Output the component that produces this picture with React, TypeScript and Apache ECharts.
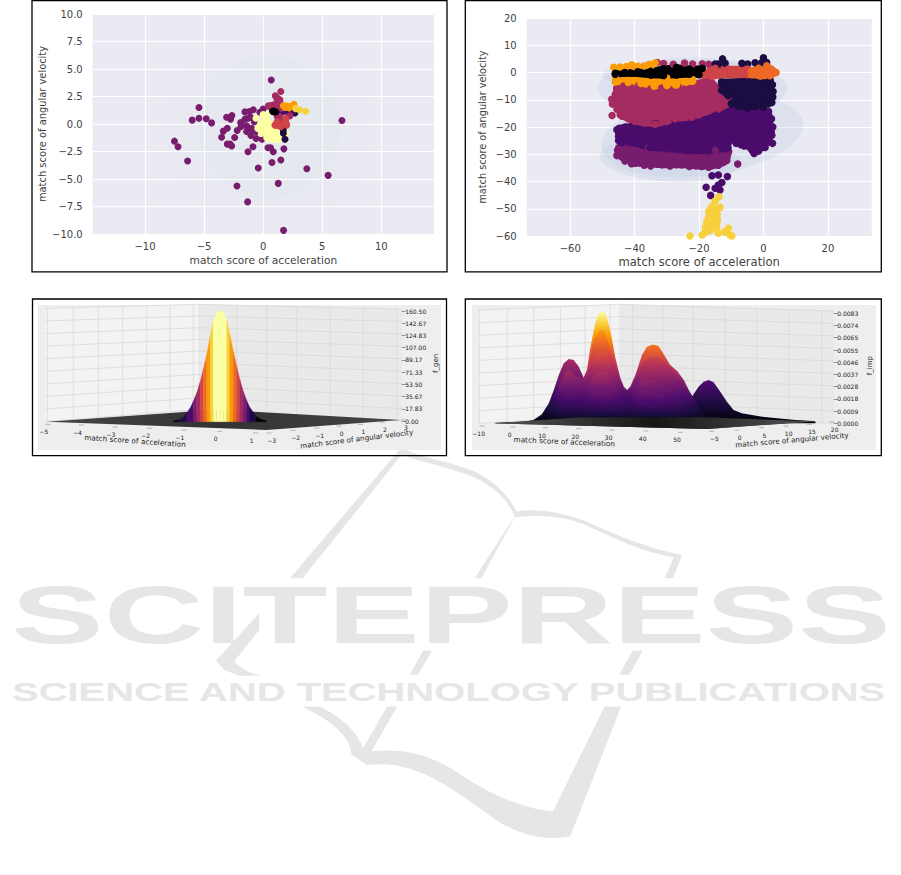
import React, { useEffect, useRef } from "react";
import * as echarts from "echarts";

// ---------- palette (inferno, 10 steps) ----------
const C = ["#000004", "#1b0c41", "#4a0c6b", "#781c6d", "#a52c60", "#cf4446", "#ed6925", "#fb9b06", "#f7d13d", "#fcffa4"];
const INK = "#3f3f3f";
const FONT = '"DejaVu Sans"';

// ---------- panel A: generated samples (x, y) ----------
const aMagenta = [[0.69,4.0],[6.67,0.32],[-5.43,1.5],[-5.43,0.53],[-6.0,0.35],[-4.81,0.47],[-4.36,0.1],[-7.5,-1.56],[-7.2,-2.07],[-6.39,-3.37],[-3.09,0.62],[-2.64,0.77],[-2.75,0.44],[-3.03,-0.38],[-3.37,-0.65],[-3.51,-1.2],[-2.41,-1.22],[-2.19,-0.59],[-3.03,-1.83],[-2.8,-1.83],[-2.66,-2.0],[-1.28,-2.53],[-0.86,-2.07],[-0.41,-4.0],[-2.21,-5.64],[-1.31,-7.08],[1.28,-5.4],[0.75,-3.5],[1.5,-3.28],[3.7,-4.07],[5.5,-4.67],[1.73,-9.67],[1.76,-2.26],[0.86,-2.53],[0.63,-2.16],[0.41,-2.16],[-0.1,-1.38],[-0.6,-1.32],[-1.03,-1.04],[-1.54,1.1],[-1.17,1.13],[-0.83,1.29],[-1.54,0.44],[-1.26,0.53],[-1.9,0.14],[-1.87,-0.23],[-1.4,-0.17],[-0.97,-0.38],[-1.4,-0.68],[-1.1,-0.83],[-1.06,0.62],[-0.27,1.07],[0,1.35],[-0.75,0.2],[-0.6,-0.7]];
const aPaleHull = [[-0.45,-0.4],[-0.2,0.05],[0.3,0.4],[0.7,-0.1],[1.7,-0.5],[1.9,-0.8],[1.55,-1.3],[1.3,-1.4],[0.8,-1.4],[0.3,-1.25],[-0.15,-0.85]];
const aPaleExtra = [[0,0.85],[0.35,0.85],[-0.6,0.53],[1.85,-1.05]];
const aNavy = [[2.69,1.0],[1.71,-0.53],[1.71,-0.83],[1.85,-1.38]];
const aPurple = [[1.7,1.13],[2.13,1.04],[2.4,1.1],[1.42,0.98],[0.86,1.2]];
const aCrimsonHull = [[1.03,2.56],[1.42,2.2],[1.56,1.44],[1.42,0.68],[1.28,0.38],[1.0,1.13],[0.44,1.65],[1.28,1.89]];
const aCrimsonExtra = [[1.5,2.95],[2.27,0.74]];
const aRedHull = [[1.2,0.2],[1.9,0.5],[2.0,-0.1],[1.5,-0.25],[1.0,-0.1]];
const aAmber = [[1.71,1.65],[1.99,1.65],[2.27,1.59],[2.61,1.8],[2.41,1.59],[1.85,1.5],[2.2,1.45]];
const aYellow = [[3.06,1.29],[3.6,1.16],[2.75,1.4]];
const aBlack = [[0.8,1.15],[0.95,1.15],[1.05,1.1]];
const aHalos = [[0.3,-0.4,8.5,9,0],[0.5,-0.3,6,6.5,0]];

// ---------- panel B: imposter samples (x, y), cluster outlines ----------
const bBlack = [[-46,-0.3],[-43,0],[-39,0.3],[-35,0.4],[-31,1.4],[-27,1.8],[-23,1.3],[-19,1.5],[-20,-0.8],[-23,-0.6],[-27,-0.9],[-31,-1.1],[-35,-0.9],[-41,-0.3],[-46,-0.6]];
const bAmberTop = [[-46.5,1.9],[-44.5,2],[-42.5,2.2],[-40.9,2.8],[-38.9,2.3],[-37,2.4],[-35.5,3],[-33.6,3.6],[-35,2],[-40,1.5]];
const bAmberLow = [[-46,-3.5],[-42,-3.7],[-38,-4],[-34,-5],[-30,-4.8],[-27,-4.6],[-24,-3.6],[-22,-3.2],[-22,-2.6],[-30,-2],[-46,-1.5]];
const bCrimson = [[-45.6,-5.8],[-43.5,-5],[-38.8,-4.9],[-31.6,-5.7],[-26.4,-5.3],[-21.2,-4],[-16.5,-3],[-13.5,-6.6],[-10.9,-9.6],[-10.4,-11.3],[-14,-13.3],[-18.1,-14.6],[-22.3,-16.4],[-27.4,-17],[-33.6,-19],[-39.9,-18],[-44,-16],[-44.9,-13],[-45.6,-9]];
const bCrimsonEdge = [[-46,-8],[-45.5,-11],[-45.5,-13.5],[-44.5,-15.5],[-42,-17],[-37,-18.5],[-30,-18],[-25,-16.5],[-20,-15.5],[-16,-13.5],[-41,-5.6],[-35,-6],[-29,-6.3],[-24,-5.5]];
const bCrimsonExtra = [[-47.1,-9.8],[-46.9,-11.6],[-47,-15.8],[-33,3.7],[-31,3.3],[-28,3],[-24.5,3.5],[-22,3.1],[-19,3.2],[-17,3],[-14,2.7]];
const bRed = [[-18.7,-1],[-16.6,0.6],[-15,1.5],[-10.9,1.3],[-5,1.3],[-5,-0.8],[-14,-1],[-16,-1.5]];
const bOrange = [[-3.7,0.5],[-1.5,1.5],[1,2.5],[2.5,1.2],[3.9,0],[2,-1.2],[-1,-1.3],[-3.7,-0.8]];
const bNavy = [[-13,-3.5],[2.1,-2.8],[2.4,-9.5],[1.6,-11.5],[-2.6,-12.5],[-7.8,-12.5],[-9.4,-11],[-10.9,-8.5],[-13,-6.5]];
const bNavyEdge = [[2.8,-4.5],[3,-7],[2.9,-9],[2.6,-11],[0,-12.8],[-5,-13],[-10,-11.5]];
const bNavyExtra = [[-12.7,5],[0,5.4],[-15,3.1],[-14,3.1],[-11.9,3.4],[-6.7,3.4],[-4.9,3.1],[-2.6,3.6],[-0.5,3.7],[1,3.7]];
const bPurple = [[-44.8,-20.5],[-43,-20],[-40.9,-19.7],[-33.6,-18.7],[-27.4,-18],[-22.3,-16.9],[-15,-15],[-9.8,-13.7],[-4.7,-14.7],[1.6,-14.3],[2.4,-21.7],[1.6,-25.5],[-0.5,-27.5],[-2.9,-29.7],[-4.5,-27.2],[-7,-26.5],[-7.5,-24.5],[-10,-24.5],[-12,-28],[-17,-28.7],[-23.3,-28.7],[-29.5,-28],[-35.2,-27.5],[-40.9,-25.7],[-44,-25.7],[-44.9,-22.3]];
const bPurpleEdge = [[2.5,-17],[2.9,-20],[2.6,-23],[2.8,-26],[0.5,-27.5],[-1.5,-28.8],[-6,-27],[-8.5,-26],[-11,-27.5],[-3.5,-28.5],[-45.5,-21],[-45,-23.5],[-45,-25],[-42,-25.5],[-38,-26.5]];
const bPurpleExtra = [[-16,-37.9],[-14,-37.6],[-11.2,-38.2],[-17.8,-42.1],[-12.9,-40.4],[-14,-41.3],[-15,-42.5],[-13.5,-43.1],[-16.4,-45.1]];
const bMagenta = [[-44.9,-27.5],[-43,-27],[-35.7,-27.5],[-29.5,-28.2],[-23.3,-28.8],[-17,-29],[-15,-28.5],[-10.8,-29],[-11.4,-32.3],[-14,-34],[-19.2,-34.5],[-25.4,-33.9],[-31.6,-33.9],[-39.9,-33.3],[-44,-31],[-45,-30]];
const bMagentaEdge = [[-43,-32.5],[-41,-33.5],[-37,-34],[-35,-34.3],[-33,-33.7],[-29,-34.3],[-27,-33.8],[-23,-34.5],[-21,-34.2],[-17,-34.8],[-16,-34.2],[-12.5,-33],[-45.3,-28.5],[-45.5,-30.5]];
const bMagentaExtra = [[-8,-33.6]];
const bYellow = [[-16,-51],[-14.3,-50],[-14.3,-54],[-14.5,-57],[-18,-57],[-17,-53]];
const bYellowExtra = [[-13.8,-45.6],[-15,-47.2],[-16,-49.2],[-13.5,-49.5],[-17.6,-54.7],[-16.6,-52.9],[-10.9,-57.2],[-11.9,-58.4],[-15,-56],[-22.8,-60],[-9.8,-60],[-19,-59.6],[-18,-58.5],[-16.5,-58],[-14,-59],[-12,-58.5],[-10.5,-59.5],[-16.3,-50],[-17,-51]];
const bEllipses = [[-22,-5.8,29.3,11.4,0],[-19,-23,31.5,15,7],[-29,-32,22,8,-3],[-23,-1,27,5.5,0]];

// ---------- panel C: f_gen surface profile ----------
const cX = [-1.22,-1.08,-0.93,-0.84,-0.74,-0.65,-0.55,-0.45,-0.36,-0.26,-0.16,-0.07,0.03,0.13,0.22,0.32,0.41,0.51,0.61,0.7,0.8,0.9,0.99,1.09,1.18,1.28,1.47];
const cZ = [0,1.5,5.4,11.2,18.5,28.2,40.4,56.4,74.4,96.3,123,145,158.6,160.5,159.5,147.4,125.5,101.2,79.3,59.8,42.8,29.2,19.5,12.6,6.3,2.9,0];
const cStripe = [C[0],C[1],C[1],C[2],C[2],C[3],C[4],C[5],C[6],C[7],C[8],C[9],C[9],C[9],C[9],C[8],C[7],C[6],C[5],C[4],C[3],C[2],C[1],C[1],C[0],C[0]];
const cFloor = [[-4.88,-1],[0.01,16.5],[5.34,1.5],[1.47,-13.1]];
const cZTicks = [0,17.83,35.67,53.5,71.33,89.17,107,124.83,142.67,160.5];
const cAccTicks = ["−5","−4","−3","−2","−1","0","1"];
const cAngTicks = ["−3","−2","−1","0","1","2","3"];

// ---------- panel D: f_imp surface (values in 1e-4) ----------
const dPeak4X = [53,55.2,57,58.5,60,61.5,63.5,65.5,67.5,70,76.1,86.1,92.2];
const dPeak4Z = [16.3,20.9,27.7,31.4,32.7,30.9,23.9,16.3,10.1,7.5,5,2.5,1.3];
const dPeak1X = [-4.3,3.7,7.2,9.7,11.8,13.3,14.8,16.3,17.8,19.3,20.8,22.3,24,26];
const dPeak1Z = [0.5,0.75,2.5,6.8,15.1,25.2,36.5,45.3,48.5,47.8,42.8,34.5,25,0];
const dBodyX = [18,20,22.3,23.3,24.3,25.8,26.8,27.9,29,30.4,31.9,33.4,34.4,35.4,36.4,37.9,39.9,41.4,43.1,44.9,46.9,48.4,50.5,52.5,54,55.2,57,58.9];
const dBodyZ = [5,18,34.5,40.2,56.6,75.5,82.2,84.8,82.2,69.2,49,34,27.7,25.2,27.7,36.5,51.6,57.8,59.4,58.3,50.3,44,39.5,32.7,25.2,20.1,11.3,5];
const dKnots = [8.7,12.3,15.3,17.8,20.3,23.3,25.3,27.9,30.4,32.9,35.4,37.9,40.4,43.1,45.9,48.9,52,55,58.5];
const dLayer1 = [1.8,10.1,30.9,40.2,35.2,35.2,61.6,70.9,55.3,35.2,22.6,34,46.5,50.3,47.8,40.2,30.2,18.9,6.3];
const dLayer2 = [1.3,7.5,23.9,31.4,27.7,30.2,49,55.3,45.3,30.2,20.1,28.9,41,42.8,37.7,32.7,23.9,15.1,5];
const dLayer3 = [0.8,5,17.6,23.9,20.1,23.9,35.2,39,34,23.9,16.9,25.2,34,32.7,28.9,25.2,18.9,11.3,4.3];
const dLayer4 = [0.5,3.3,12.6,16.3,13.8,16.3,22.6,24.6,22.6,17.6,13.3,18.9,25.2,23.9,21.4,17.6,13.3,8.3,3.3];
const dLayer5 = [0.25,1.8,7.5,10.1,8.8,10.1,12.6,13.8,12.6,10.8,9.3,12.6,15.8,15.1,13.3,11.3,8.8,5.8,2.3];
const dLayer6 = [0,0.75,3.8,5.8,5,5.8,7,7.5,7.3,6.3,5.8,7.5,8.8,8.8,7.5,6.8,5.5,3.8,1.3];
const dFloor = [[-4.8,0],[35.9,6.3],[92.2,1.8],[59.5,-4.3]];
const dApron = [[-4.8,0],[20.8,4.3],[59,4.5],[92.2,1.3],[59.5,-4.3]];
const dZTicks = [0,9.2,18.4,27.7,36.9,46.1,55.3,64.6,73.8,83];
const dAccTicks = ["−10","0","10","20","30","40","50"];
const dAngTicks = ["−5","0","5","10","15","20"];

const ACC = "match score of acceleration";
const ANG = "match score of angular velocity";

const BOOK = "M605 22C640 45 720 60 800 85C870 110 925 160 950 215C1010 205 1080 215 1160 245C1250 285 1340 325 1448 345L1420 415L1395 415L1423 352C1320 335 1250 295 1150 252C1080 225 1010 225 945 232L845 415L825 415L945 228C920 170 865 125 790 100C720 75 660 65 605 45L308 415L270 415Z" +
  "M178 520L178 570L103 665C120 685 150 700 182 708L120 708L75 692L48 662Z" +
  "M716 570L736 570L715 605Z M670 632L697 632L655 705L630 705Z M1300 632L1330 632L1290 705L1258 705Z" +
  "M305 800L360 800C420 830 470 870 490 925L562 800L592 800L515 935C600 925 680 940 760 990C850 1050 950 1105 1060 1115L1215 800L1265 800L1112 1190C1040 1205 960 1190 880 1135C790 1070 700 1000 600 980C560 970 530 975 500 975L455 945C450 880 380 835 305 800Z";

const minus = (v: number | string) => String(v).replace("-", "−");

function hull(pts: number[][], fill: string, g: number, grow: number, z = 2): any {
  return {
    type: "custom", coordinateSystem: "cartesian2d", xAxisIndex: g, yAxisIndex: g, z, silent: true, clip: true, data: pts,
    renderItem: (p: any, api: any) => p.dataIndex !== 0 ? undefined : ({
      type: "polygon", shape: { points: pts.map((q) => api.coord(q)) },
      style: { fill, stroke: fill, lineWidth: grow, lineJoin: "round" },
    }),
  };
}
function dots(pts: number[][], color: string, g: number, size: number, z = 2): any {
  return { type: "scatter", xAxisIndex: g, yAxisIndex: g, z, silent: true, clip: true, symbolSize: size, itemStyle: { color, opacity: 1 }, data: pts };
}
function blob(pts: number[][], color: string, g: number, size: number, z = 2): any[] {
  return [hull(pts, color, g, size - 1, z), dots(pts, color, g, size, z)];
}
function ellipses(rows: number[][], fill: string, opacity: number, g: number): any {
  return {
    type: "custom", coordinateSystem: "cartesian2d", xAxisIndex: g, yAxisIndex: g, z: 1, silent: true, clip: true, data: rows,
    renderItem: (_p: any, api: any) => {
      const c = api.coord([api.value(0), api.value(1)]);
      const s = api.size([api.value(2), api.value(3)]);
      return {
        type: "ellipse", x: c[0], y: c[1], rotation: (api.value(4) * Math.PI) / 180,
        shape: { cx: 0, cy: 0, rx: s[0], ry: s[1] }, style: { fill, opacity },
      };
    },
  };
}
const infernoStops = C.map((color, i) => ({ offset: i / 9, color }));
// a surface slice: filled down to the floor, coloured by height
function slice(xs: number[], zs: number[], top: number, g: number, z: number, smooth = 0): any {
  return {
    type: "custom", coordinateSystem: "cartesian2d", xAxisIndex: g, yAxisIndex: g, z, silent: true, clip: false, data: xs,
    renderItem: (p: any, api: any) => {
      if (p.dataIndex !== 0) return undefined;
      const y0 = api.coord([0, 0])[1];
      const y1 = api.coord([0, top])[1];
      const line = xs.map((x, i) => api.coord([x, zs[i]]));
      const pts = [api.coord([xs[0], 0]), ...line, api.coord([xs[xs.length - 1], 0])];
      return {
        type: "polygon", shape: { points: pts, smooth },
        style: { fill: new echarts.graphic.LinearGradient(0, y0, 0, y1, infernoStops, true) },
      };
    },
  };
}
function floor(pts: number[][], g: number, z: number, edge: string, mid: string): any {
  return {
    type: "custom", coordinateSystem: "cartesian2d", xAxisIndex: g, yAxisIndex: g, z, silent: true, clip: false, data: pts,
    renderItem: (p: any, api: any) => p.dataIndex !== 0 ? undefined : ({
      type: "polygon", shape: { points: pts.map((q) => api.coord(q)) },
      style: { fill: new echarts.graphic.LinearGradient(0, 0, 1, 0, [{ offset: 0, color: edge }, { offset: 0.5, color: mid }, { offset: 1, color: edge }]) },
    }),
  };
}
function stripes(): any {
  return {
    type: "custom", coordinateSystem: "cartesian2d", xAxisIndex: 2, yAxisIndex: 2, z: 4, silent: true, clip: false,
    data: cStripe.map((_, i) => [cX[i], cZ[i], cX[i + 1], cZ[i + 1]]),
    renderItem: (p: any, api: any) => {
      const fill = cStripe[p.dataIndex];
      const [a, b, c, d] = [0, 1, 2, 3].map((i) => api.value(i));
      return {
        type: "polygon",
        shape: { points: [api.coord([a, -1]), api.coord([a, b]), api.coord([c, d]), api.coord([c, -1])] },
        style: { fill, stroke: fill, lineWidth: 0.4 },
      };
    },
  };
}

const flatAxisLabel = { color: INK, fontFamily: FONT, fontSize: 10 };
function sciX(g: number, min: number, max: number, ticks: number[], nameGap: number, size: number): any {
  return {
    gridIndex: g, type: "value", min, max, name: ACC, nameLocation: "middle", nameGap,
    nameTextStyle: { color: INK, fontFamily: FONT, fontSize: size },
    axisLine: { show: false, onZero: false }, axisTick: { show: false, customValues: ticks },
    axisLabel: { ...flatAxisLabel, margin: 7, customValues: ticks, formatter: minus, showMinLabel: true, showMaxLabel: true },
    splitLine: { show: true, lineStyle: { color: "#fff", width: 1.1 } },
  };
}
function sciY(g: number, min: number, max: number, interval: number, digits: number, nameGap: number, size: number): any {
  return {
    gridIndex: g, type: "value", min, max, interval, name: ANG, nameLocation: "middle", nameGap,
    nameTextStyle: { color: INK, fontFamily: FONT, fontSize: size },
    axisLine: { show: false, onZero: false }, axisTick: { show: false },
    axisLabel: { ...flatAxisLabel, margin: 10, formatter: (v: number) => minus(v.toFixed(digits)) },
    splitLine: { show: true, lineStyle: { color: "#fff", width: 1.1 } },
  };
}
const hiddenX = (g: number, min: number, max: number): any => ({ gridIndex: g, type: "value", min, max, show: false });
function zAxis(g: number, max: number, ticks: number[], fmt: (v: number) => string): any {
  return {
    gridIndex: g, type: "value", min: 0, max, position: "right",
    axisLine: { show: false, onZero: false }, splitLine: { show: false },
    axisTick: { show: true, length: 4, inside: false, customValues: ticks, lineStyle: { color: "#666", width: 0.7 } },
    axisLabel: { color: "#222", fontFamily: FONT, fontSize: 6, margin: 3.5, customValues: ticks, formatter: fmt, showMinLabel: true, showMaxLabel: true },
  };
}

function txt(x: number, y: number, text: string, size: number, rot = 0, color = "#222"): any {
  return {
    type: "text", x, y, rotation: (rot * Math.PI) / 180, z: 6, silent: true,
    style: { text, fill: color, font: `${size}px ${FONT}`, align: "center", verticalAlign: "middle" },
  };
}
function wall(to: (x: number, y: number) => number[], c: any): any[] {
  const out: any[] = [];
  const poly = (p: number[][], fill: string) => out.push({ type: "polygon", z: 0, silent: true, shape: { points: p.map(([x, y]) => to(x, y)) }, style: { fill } });
  poly([[c.l, c.tl], [c.m, c.tm], [c.m, c.bm], [c.l, c.bl]], "#f3f3f3");
  poly([[c.m, c.tm], [c.r, c.tr], [c.r, c.br], [c.m, c.bm]], "#e9e9e9");
  const seg = (a: number[], b: number[]) => {
    const [p, q] = [to(a[0], a[1]), to(b[0], b[1])];
    out.push({ type: "line", z: 1, silent: true, shape: { x1: p[0], y1: p[1], x2: q[0], y2: q[1] }, style: { stroke: "#d8d8d8", lineWidth: 0.8 } });
  };
  for (let i = 0; i < 10; i++) {
    const t = i / 9;
    const yl = c.bl + (c.tl - c.bl) * t, ym = c.bm + (c.tm - c.bm) * t, yr = c.br + (c.tr - c.br) * t;
    seg([c.l, yl], [c.m, ym]);
    seg([c.m, ym], [c.r, yr]);
  }
  for (const x of c.vl) {
    const t = (x - c.l) / (c.m - c.l);
    seg([x, c.tl + (c.tm - c.tl) * t], [x, c.bl + (c.bm - c.bl) * t]);
  }
  for (const x of c.vr) {
    const t = (x - c.m) / (c.r - c.m);
    seg([x, c.tm + (c.tr - c.tm) * t], [x, c.bm + (c.br - c.bm) * t]);
  }
  return out;
}
function dash(p: number[], dx: number): any {
  return { type: "line", z: 2, silent: true, shape: { x1: p[0] - dx, y1: p[1], x2: p[0] + dx, y2: p[1] }, style: { stroke: "#999", lineWidth: 0.7 } };
}

function buildOption(): any {
  const Z3 = (x: number, y: number) => [30 + x / 3, 295 + y / 3];
  const Z4 = (x: number, y: number) => [462 + x / 3, 295 + y / 3];
  const frame = (x: number, y: number, w: number, h: number) => ({ type: "rect", z: 5, silent: true, shape: { x, y, width: w, height: h }, style: { fill: "none", stroke: "#000", lineWidth: 1.3 } });
  const sheet = (x: number, y: number, w: number, h: number) => ({ type: "rect", z: 0, silent: true, shape: { x, y, width: w, height: h }, style: { fill: "#eeeeee" } });

  const cAccPos = [[42,410],[142,412],[243,418],[347,422],[450,427],[557,431],[665,436]];
  const cAngPos = [[725,436],[797,428],[869,421],[935,415],[1000,410],[1065,403],[1128,397]];
  const dAccPos = [[50,415],[143,418],[240,420],[340,423],[440,427],[542,430],[645,434]];
  const dAngPos = [[757,431],[833,427],[907,420],[980,415],[1050,410],[1118,403]];

  const graphic: any[] = [
    { type: "watermarkBook", x: 200, y: 440, scaleX: 1 / 3, scaleY: 1 / 3, z: 0, silent: true, style: { fill: "#e5e7e6" } },
    { type: "text", x: 11, y: 615, scaleX: 1.715, z: 0, silent: true, style: { text: "SCITEPRESS", fill: "#e5e7e6", font: 'bold 81px "Liberation Sans"', align: "left", verticalAlign: "middle" } },
    { type: "text", x: 12, y: 692, scaleX: 1.536, z: 0, silent: true, style: { text: "SCIENCE AND TECHNOLOGY PUBLICATIONS", fill: "#e5e7e6", font: 'bold 26px "Liberation Sans"', align: "left", verticalAlign: "middle" } },
    sheet(38, 305, 403, 145),
    sheet(472, 305, 404, 145),
    ...wall(Z3, { l: 45, m: 505, r: 1115, tl: 40, tm: 28, tr: 42, bl: 380, bm: 344, br: 378, vl: [52,130,205,278,350,420,490], vr: [620,710,800,900,1000,1100] }),
    ...wall(Z4, { l: 50, m: 472, r: 1115, tl: 45, tm: 28, tr: 48, bl: 385, bm: 360, br: 385, vl: [52,135,215,295,369,444], vr: [512,602,694,789,884,980,1080] }),
    frame(32, 0.5, 415, 271.3),
    frame(465.3, 0.5, 416, 271.3),
    frame(32.5, 299, 414, 156.7),
    frame(465.3, 299, 416, 156.7),
    ...cAccTicks.map((t, i) => { const p = Z3(cAccPos[i][0], cAccPos[i][1]); return txt(p[0], p[1], t, 6); }),
    ...cAngTicks.map((t, i) => { const p = Z3(cAngPos[i][0], cAngPos[i][1]); return txt(p[0], p[1], t, 6); }),
    ...dAccTicks.map((t, i) => { const p = Z4(dAccPos[i][0], dAccPos[i][1]); return txt(p[0], p[1], t, 6); }),
    ...dAngTicks.map((t, i) => { const p = Z4(dAngPos[i][0], dAngPos[i][1]); return txt(p[0], p[1], t, 6); }),
    ...cAccPos.map((q) => dash(Z3(q[0] + 12, q[1] - 22), 2.5)),
    ...cAngPos.map((q) => dash(Z3(q[0] - 8, q[1] - 22), 2.5)),
    ...dAccPos.map((q) => dash(Z4(q[0] + 10, q[1] - 22), 2.5)),
    ...dAngPos.map((q) => dash(Z4(q[0] - 8, q[1] - 22), 2.5)),
    txt(Z3(315, 438)[0], Z3(315, 438)[1], ACC, 7.3, -4),
    txt(Z3(980, 432)[0], Z3(980, 432)[1], ANG, 7.2, 7),
    txt(Z3(1217, 205)[0], Z3(1217, 205)[1], "f_gen", 7, 90),
    txt(Z4(307, 440)[0], Z4(307, 440)[1], ACC, 7.3, -2.5),
    txt(Z4(990, 435)[0], Z4(990, 435)[1], ANG, 7.2, 5),
    txt(Z4(1225, 212)[0], Z4(1225, 212)[1], "f_imp", 7, 90),
  ];

  const series: any[] = [
    // panel A
    ellipses(aHalos, "#b0c4de", 0.02, 0),
    dots(aMagenta, C[3], 0, 7),
    ...blob(aPaleHull, C[9], 0, 7), dots(aPaleExtra, C[9], 0, 7),
    dots(aNavy, C[1], 0, 7), dots(aPurple, C[2], 0, 7),
    ...blob(aCrimsonHull, C[4], 0, 7), dots(aCrimsonExtra, C[4], 0, 7),
    ...blob(aRedHull, C[5], 0, 7),
    dots(aAmber, C[7], 0, 7), dots(aYellow, C[8], 0, 7), dots(aBlack, C[0], 0, 7),
    // panel B
    ellipses(bEllipses, "#b0c4de", 0.22, 1),
    ...blob(bMagenta, C[3], 1, 7.5), dots(bMagentaEdge, C[3], 1, 7.5), dots(bMagentaExtra, C[3], 1, 7.5),
    ...blob(bPurple, C[2], 1, 7.5), dots(bPurpleEdge, C[2], 1, 7.5), dots(bPurpleExtra, C[2], 1, 7.5),
    ...blob(bYellow, C[8], 1, 7.5), dots(bYellowExtra, C[8], 1, 7.5),
    ...blob(bCrimson, C[4], 1, 7.5), dots(bCrimsonEdge, C[4], 1, 7.5), dots(bCrimsonExtra, C[4], 1, 7.5),
    ...blob(bNavy, C[1], 1, 7.5), dots(bNavyEdge, C[1], 1, 7.5), dots(bNavyExtra, C[1], 1, 7.5),
    ...blob(bRed, C[5], 1, 7.5),
    ...blob(bAmberLow, C[7], 1, 7.5), dots(bAmberTop, C[7], 1, 7.5),
    ...blob(bBlack, C[0], 1, 7.5),
    ...blob(bOrange, C[6], 1, 7.5),
    // panel C
    floor(cFloor, 2, 3, "#454545", "#333333"),
    stripes(),
    // panel D
    floor(dFloor, 3, 3, "#4a4a4a", "#1c1c1c"),
    slice(dPeak4X, dPeak4Z, 135, 3, 4),
    slice(dPeak1X, dPeak1Z, 108, 3, 5),
    slice(dBodyX, dBodyZ, 85, 3, 6),
    slice(dKnots, dLayer1, 91, 3, 7, 0.3),
    slice(dKnots, dLayer2, 89, 3, 8, 0.3),
    slice(dKnots, dLayer3, 83, 3, 9, 0.3),
    slice(dKnots, dLayer4, 75, 3, 10, 0.3),
    slice(dKnots, dLayer5, 66, 3, 11, 0.3),
    slice(dKnots, dLayer6, 60, 3, 12, 0.3),
    floor(dApron, 3, 13, "#555555", "#161616"),
  ];

  return {
    animation: false,
    backgroundColor: "#fff",
    tooltip: { show: false },
    grid: [
      { left: 92.7, top: 14, width: 341.3, height: 220, show: true, backgroundColor: "#eaeaf2", borderWidth: 0 },
      { left: 526.7, top: 18, width: 345, height: 218, show: true, backgroundColor: "#eaeaf2", borderWidth: 0 },
      { left: 38, top: 311, width: 363.7, height: 110 },
      { left: 472, top: 313.3, width: 361.7, height: 110 },
    ],
    xAxis: [
      sciX(0, -14.42, 14.46, [-10, -5, 0, 5, 10], 20, 10.6),
      sciX(1, -73.5, 33.6, [-60, -40, -20, 0, 20], 20, 11.6),
      hiddenX(2, -5.135, 5.376),
      hiddenX(3, -11.36, 97.7),
    ],
    yAxis: [
      sciY(0, -10, 10, 2.5, 1, 45, 9.9),
      sciY(1, -60, 20, 10, 0, 39, 9.7),
      zAxis(2, 160.5, cZTicks, (v) => v.toFixed(2)),
      zAxis(3, 83, dZTicks, (v) => (v / 1e4).toFixed(4)),
    ],
    graphic: { elements: graphic },
    series,
  };
}

export default function App() {
  const ref = useRef<HTMLDivElement>(null);
  useEffect(() => {
    echarts.graphic.registerShape("watermarkBook", echarts.graphic.extendPath(BOOK as any, {}) as any);
    const chart = echarts.init(ref.current!, undefined, { renderer: "svg" });
    chart.setOption(buildOption());
    return () => chart.dispose();
  }, []);
  return <div ref={ref} style={{ position: "absolute", left: 0, top: 0, width: 901, height: 875 }} />;
}
